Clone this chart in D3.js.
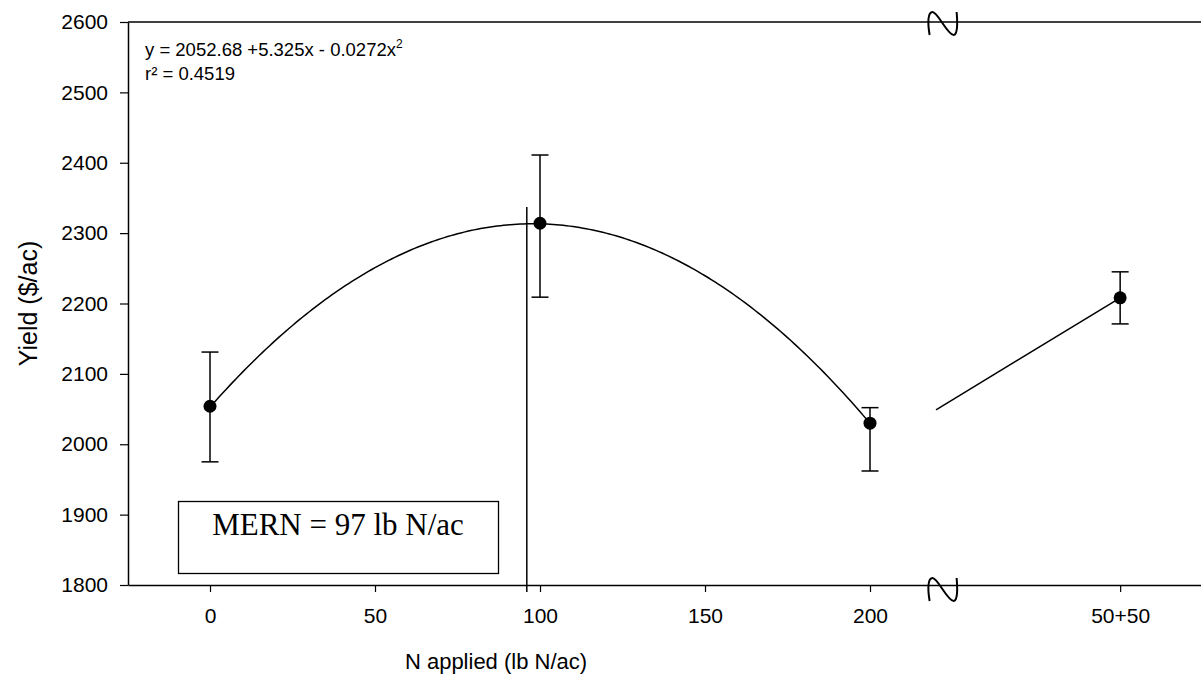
<!DOCTYPE html>
<html>
<head>
<meta charset="utf-8">
<script src="https://cdn.jsdelivr.net/npm/d3@7"></script>
<style>
  body { margin: 0; background: #fff; }
  svg { display: block; }
  text { font-family: "Liberation Sans", Arial, sans-serif; fill: #000; }
</style>
</head>
<body>
<svg id="chart" width="1201" height="677"></svg>
<script>
// ---- data ----
const xTickValues = [0, 50, 100, 150, 200];
const splitTickValue = 275.8;
const splitTickLabel = "50+50";
const yTickValues = [1800, 1900, 2000, 2100, 2200, 2300, 2400, 2500, 2600];

const nRates = [0, 100, 200];
const meanYield = [2054, 2314, 2030];
const errLow = [1975, 2209, 1962];
const errHigh = [2131, 2411, 2052];

const splitX = [275.8];
const splitYield = [2208];
const splitLow = [2171];
const splitHigh = [2245];

const segX = [220, 275.8];
const segY = [2049, 2208];

const fitCoef = [2052.68, 5.325, -0.0272];
const fitRange = [0, 200];
const mernX = 96;
const mernTop = 2337;
const breakX = 222;

// ---- layout ----
const svg = d3.select("#chart");
const mLeft = 128, mRight = 1201, mTop = 22, mBottom = 585;
const x = d3.scaleLinear().domain([-24.85, 300.3]).range([mLeft, mRight]);
const y = d3.scaleLinear().domain([1800, 2600]).range([mBottom, mTop]);

// top border
svg.append("line").attr("x1", mLeft).attr("x2", mRight).attr("y1", mTop).attr("y2", mTop)
  .attr("stroke", "#000").attr("stroke-width", 1.5);

// y axis
const yAxis = d3.axisLeft(y).tickValues(yTickValues).tickSize(8).tickSizeOuter(0).tickPadding(12)
  .tickFormat(d3.format("d"));
const gy = svg.append("g").attr("transform", `translate(${mLeft},0)`).call(yAxis);
gy.select(".domain").attr("stroke-width", 1.5);
gy.selectAll(".tick line").attr("stroke-width", 1.2);
gy.selectAll("text").style("font-size", "21px").attr("font-family", "Liberation Sans, Arial, sans-serif");

// x axis
const allTicks = xTickValues.concat([splitTickValue]);
const xAxis = d3.axisBottom(x).tickValues(allTicks).tickSize(7).tickSizeOuter(0).tickPadding(16)
  .tickFormat(d => d === splitTickValue ? splitTickLabel : String(d));
const gx = svg.append("g").attr("transform", `translate(0,${mBottom})`).call(xAxis);
gx.select(".domain").attr("stroke-width", 1.5);
gx.selectAll(".tick line").attr("stroke-width", 1.2);
gx.selectAll("text").style("font-size", "21px").attr("font-family", "Liberation Sans, Arial, sans-serif");

// axis break symbols
function breakSymbol(cx, cy) {
  const p = d3.path();
  p.moveTo(cx - 13, cy + 12);
  p.bezierCurveTo(cx - 15, cy, cx - 15, cy - 11, cx - 10, cy - 11);
  p.bezierCurveTo(cx - 5, cy - 11, cx + 5, cy + 12, cx + 11, cy + 12);
  p.bezierCurveTo(cx + 15, cy + 12, cx + 15, cy, cx + 14, cy - 11);
  svg.append("path").attr("d", p.toString()).attr("fill", "none")
    .attr("stroke", "#000").attr("stroke-width", 2);
}
breakSymbol(x(breakX), mTop + 1);
breakSymbol(x(breakX), mBottom + 4);

// fitted curve
const curvePts = d3.range(fitRange[0], fitRange[1] + 0.5, 1)
  .map(v => [v, fitCoef[0] + fitCoef[1] * v + fitCoef[2] * v * v]);
const line = d3.line().x(d => x(d[0])).y(d => y(d[1]));
svg.append("path").datum(curvePts).attr("d", line).attr("fill", "none")
  .attr("stroke", "#000").attr("stroke-width", 1.5);

// segment to split point
svg.append("path").datum(segX.map((v, i) => [v, segY[i]])).attr("d", line)
  .attr("fill", "none").attr("stroke", "#000").attr("stroke-width", 1.5);

// MERN vertical line
svg.append("line").attr("x1", x(mernX)).attr("x2", x(mernX))
  .attr("y1", y(mernTop)).attr("y2", mBottom + 7)
  .attr("stroke", "#000").attr("stroke-width", 1.5);

// error bars + points
const pts = nRates.map((v, i) => ({ x: v, m: meanYield[i], lo: errLow[i], hi: errHigh[i] }))
  .concat(splitX.map((v, i) => ({ x: v, m: splitYield[i], lo: splitLow[i], hi: splitHigh[i] })));
const capW = 8.5;
const eb = svg.append("g").attr("stroke", "#000").attr("stroke-width", 1.5);
pts.forEach(d => {
  eb.append("line").attr("x1", x(d.x)).attr("x2", x(d.x)).attr("y1", y(d.lo)).attr("y2", y(d.hi));
  eb.append("line").attr("x1", x(d.x) - capW).attr("x2", x(d.x) + capW).attr("y1", y(d.lo)).attr("y2", y(d.lo));
  eb.append("line").attr("x1", x(d.x) - capW).attr("x2", x(d.x) + capW).attr("y1", y(d.hi)).attr("y2", y(d.hi));
});
svg.append("g").selectAll("circle").data(pts).join("circle")
  .attr("cx", d => x(d.x)).attr("cy", d => y(d.m)).attr("r", 6.5).attr("fill", "#000");

// equation
const eq = svg.append("text").attr("x", 145).attr("y", 56).style("font-size", "18.5px");
eq.append("tspan").text("y = 2052.68 +5.325x - 0.0272x");
eq.append("tspan").text("2").attr("dy", -8).style("font-size", "12px");
svg.append("text").attr("x", 145).attr("y", 80).style("font-size", "18.5px").text("r² = 0.4519");

// MERN box
svg.append("rect").attr("x", 178.5).attr("y", 501.5).attr("width", 320).attr("height", 72)
  .attr("fill", "#fff").attr("stroke", "#000").attr("stroke-width", 1.3);
svg.append("text").attr("x", 338).attr("y", 535).attr("text-anchor", "middle")
  .style("font-family", "'Liberation Serif', 'Times New Roman', serif").style("font-size", "31px")
  .text("MERN = 97 lb N/ac");

// axis titles
svg.append("text").attr("transform", `translate(37,${(mTop + mBottom) / 2}) rotate(-90)`)
  .attr("text-anchor", "middle").style("font-size", "25px").text("Yield ($/ac)");
svg.append("text").attr("x", 496).attr("y", 669).attr("text-anchor", "middle")
  .style("font-size", "22px").text("N applied (lb N/ac)");
</script>
</body>
</html>
